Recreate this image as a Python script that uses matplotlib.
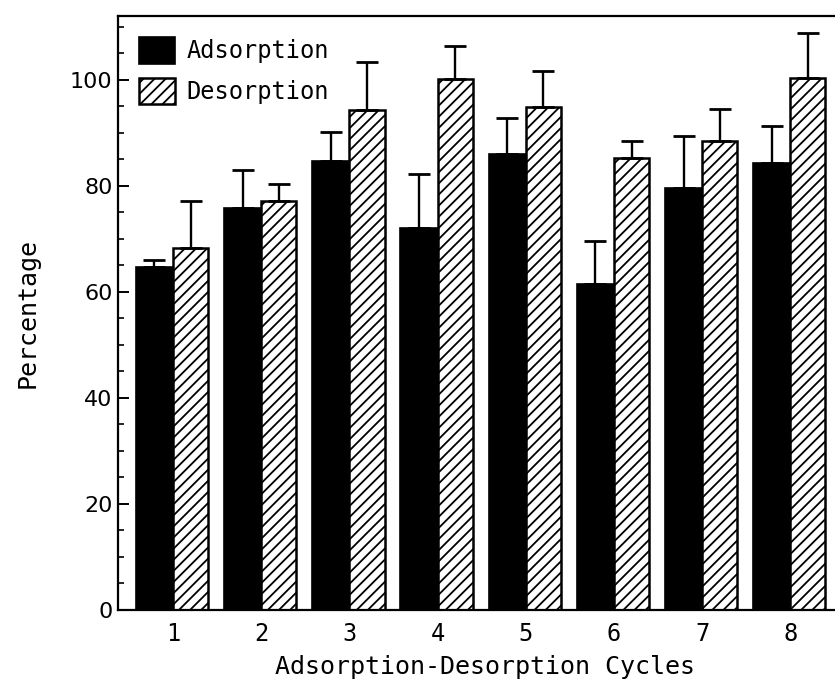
import numpy as np
import matplotlib
matplotlib.use('Agg')
import matplotlib.pyplot as plt
from matplotlib.ticker import MultipleLocator

plt.rcParams['hatch.linewidth'] = 1.3

# data
cycles = [1, 2, 3, 4, 5, 6, 7, 8]
adsorption = [64.7, 75.8, 84.7, 72.0, 86.0, 61.5, 79.5, 84.3]
adsorption_top = [65.9, 83.0, 90.2, 82.3, 92.8, 69.6, 89.4, 91.3]
desorption = [68.3, 77.2, 94.2, 100.2, 94.9, 85.3, 88.5, 100.4]
desorption_top = [77.2, 80.4, 103.4, 106.4, 101.7, 88.5, 94.5, 108.7]

x = np.array(cycles)
ads_err = [np.zeros(len(x)), np.array(adsorption_top) - np.array(adsorption)]
des_err = [np.zeros(len(x)), np.array(desorption_top) - np.array(desorption)]

mono = 'DejaVu Sans Mono'

fig = plt.figure(figsize=(8.35, 6.86), dpi=100)
ax = fig.add_axes([0.1413, 0.1108, 0.879, 0.8659])

w_a = 0.42
w_d = 0.40
ax.bar(x - w_a / 2, adsorption, w_a, color='black', edgecolor='black',
       linewidth=1.2, label='Adsorption', zorder=2)
ax.bar(x + w_d / 2, desorption, w_d, color='white', edgecolor='black',
       hatch='///', linewidth=1.8, label='Desorption', zorder=2)
ax.errorbar(x - w_a / 2, adsorption, yerr=ads_err, fmt='none', ecolor='black',
            elinewidth=1.7, capsize=8, capthick=2.0, zorder=3)
ax.errorbar(x + w_d / 2, desorption, yerr=des_err, fmt='none', ecolor='black',
            elinewidth=1.7, capsize=8, capthick=2.0, zorder=3)

ax.set_xlim(0.376, 8.7)
ax.set_ylim(0, 112)
ax.set_xticks(cycles)
ax.set_xticklabels([str(c) for c in cycles], fontfamily=mono, fontsize=17)
ax.yaxis.set_major_locator(MultipleLocator(20))
ax.yaxis.set_minor_locator(MultipleLocator(5))
for lab in ax.get_yticklabels():
    lab.set_fontsize(16)
ax.tick_params(axis='x', length=0, pad=9)
ax.tick_params(axis='y', which='major', direction='in', length=8, width=1.4, pad=4)
ax.tick_params(axis='y', which='minor', direction='in', length=4, width=1.2)
for sp in ax.spines.values():
    sp.set_linewidth(1.6)

ax.set_xlabel('Adsorption-Desorption Cycles', fontfamily=mono, fontsize=18, labelpad=6)
ax.set_ylabel('Percentage', fontfamily=mono, fontsize=18, labelpad=22)

ax.legend(loc='upper left', frameon=False, prop={'family': mono, 'size': 17},
          handlelength=1.5, handleheight=1.35, handletextpad=0.5,
          labelspacing=0.6, borderaxespad=0.5)

fig.savefig('out.png', dpi=100)
